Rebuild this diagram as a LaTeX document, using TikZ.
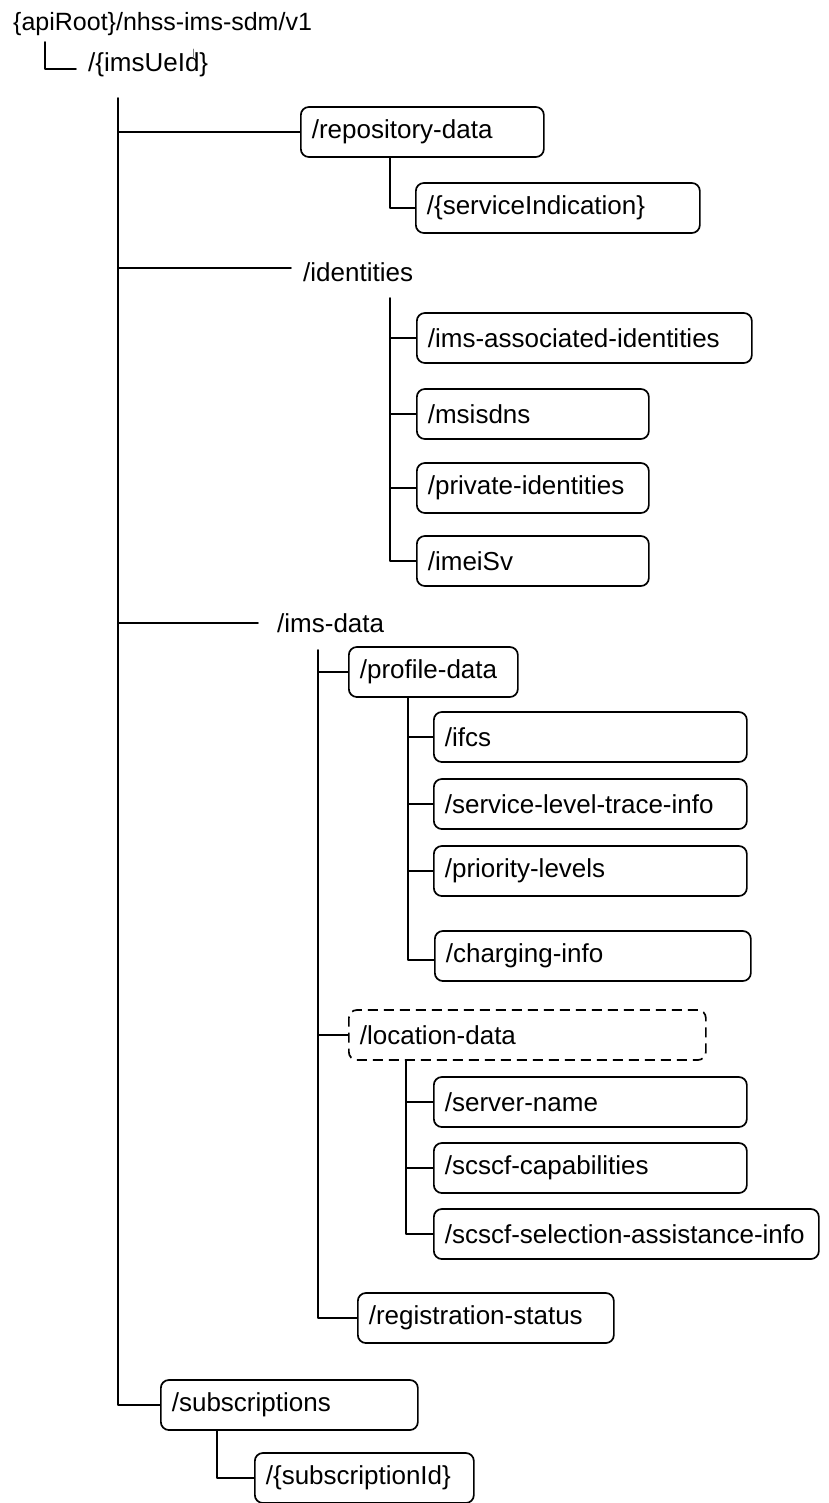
\documentclass[tikz,border=0pt]{standalone}
\usepackage{fontspec}
\setmainfont{Liberation Sans}
\tikzset{
  every picture/.style={line join=round, line cap=round},
  res/.style={draw, rounded corners=8pt, line width=1.7pt, minimum height=50pt, inner xsep=11pt, align=left, anchor=west, font=\fontsize{26}{30}\selectfont},
  optres/.style={res, dash pattern=on 10pt off 6pt, line cap=butt},
  lbl/.style={inner sep=0pt, anchor=west, font=\fontsize{26}{30}\selectfont},
  conn/.style={line width=1.7pt},
}

\begin{document}
\begin{tikzpicture}[x=1pt,y=-1pt]
\useasboundingbox (0,0) rectangle (829,1503);
% root and UE id
\node[lbl, anchor=base west, font=\fontsize{25}{30}\selectfont] (root) at (13,31) {\{apiRoot\}/nhss-ims-sdm/v1};
\node[lbl, anchor=base west] (ue) at (88,72) {/\{imsUeId\}};
\draw[gray, line width=0.6pt] (193,49)--(193,57);
% resources
\node[res, text width=221pt] (repo) at (300,132) {/repository-data};
\node[res, text width=262pt] (svcind) at (415,208) {/\{serviceIndication\}};
\node[lbl] (ids) at (303,272) {/identities};
\node[res, text width=313pt] (assoc) at (416,338) {/ims-associated-identities};
\node[res, text width=210pt] (msisdn) at (416,414) {/msisdns};
\node[res, text width=210pt] (privid) at (416,488) {/private-identities};
\node[res, text width=210pt] (imei) at (416,561) {/imeiSv};
\node[lbl] (imsdata) at (277,623) {/ims-data};
\node[res, text width=147pt] (prof) at (348,672) {/profile-data};
\node[res, text width=291pt] (ifcs) at (433,737) {/ifcs};
\node[res, text width=291pt] (slti) at (433,804) {/service-level-trace-info};
\node[res, text width=291pt] (prio) at (433,871) {/priority-levels};
\node[res, text width=294pt] (cinfo) at (434,956) {/charging-info};
\node[optres, text width=335pt] (loc) at (348,1035) {/location-data};
\node[res, text width=291pt] (srv) at (433,1102) {/server-name};
\node[res, text width=291pt] (cap) at (433,1168) {/scscf-capabilities};
\node[res, text width=363pt] (sel) at (433,1234) {/scscf-selection-assistance-info};
\node[res, text width=234pt] (reg) at (357,1318) {/registration-status};
\node[res, text width=235pt] (subs) at (160,1405) {/subscriptions};
\node[res, text width=197pt] (subid) at (254,1478) {/\{subscriptionId\}};
% connectors
\coordinate (c0) at (45,42);
\draw[conn, shorten >=12pt] (c0) |- ([yshift=-4pt]ue.west);
\coordinate (t0) at (118,98);
\draw[conn] (t0) |- (subs.west);
\draw[conn] (t0 |- repo.west) -- (repo.west);
\draw[conn, shorten >=12pt] (t0 |- ids.west) ++(0,-4) -- ([yshift=4pt]ids.west);
\draw[conn, shorten >=19pt] (t0 |- imsdata.west) -- (imsdata.west);
\coordinate (r0) at (390,158);
\draw[conn] (r0) |- (svcind.west);
\coordinate (i0) at (390,298);
\draw[conn] (i0) |- (imei.west);
\foreach \n in {assoc,msisdn,privid}
  \draw[conn] (i0 |- \n.west) -- (\n.west);
\coordinate (d0) at (318,650);
\draw[conn] (d0) |- (reg.west);
\foreach \n in {prof,loc}
  \draw[conn] (d0 |- \n.west) -- (\n.west);
\coordinate (p0) at (408,697);
\draw[conn] (p0) |- ([yshift=-4pt]cinfo.west);
\foreach \n in {ifcs,slti,prio}
  \draw[conn] (p0 |- \n.west) -- (\n.west);
\coordinate (l0) at (406,1060);
\draw[conn] (l0) |- (sel.west);
\foreach \n in {srv,cap}
  \draw[conn] (l0 |- \n.west) -- (\n.west);
\coordinate (s0) at (217,1430);
\draw[conn] (s0) |- (subid.west);
\end{tikzpicture}
\end{document}
